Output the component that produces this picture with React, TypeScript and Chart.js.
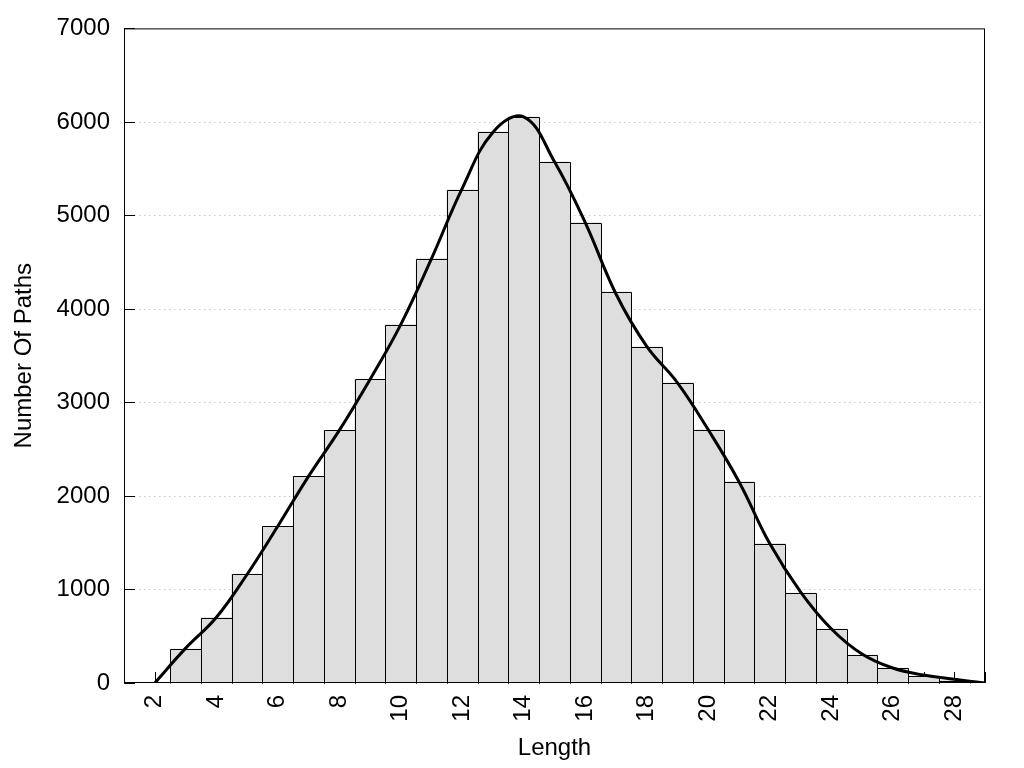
import React, { useEffect, useRef } from "react";
import { Chart, registerables } from "chart.js";

Chart.register(...registerables);

// ---- data ----
const barLengths = [3, 4, 5, 6, 7, 8, 9, 10, 11, 12, 13, 14, 15, 16, 17, 18, 19, 20, 21, 22, 23, 24, 25, 26, 27, 28];
const barCounts = [363, 700, 1164, 1676, 2210, 2701, 3246, 3833, 4538, 5275, 5894, 6054, 5574, 4923, 4182, 3594, 3210, 2708, 2153, 1491, 961, 577, 299, 160, 75, 25];
const curveLengths = [2, 3, 4, 5, 6, 7, 8, 9, 10, 11, 12, 13, 14, 15, 16, 17, 18, 19, 20, 21, 22, 23, 24, 25, 26, 27, 28, 29];
const curveCounts = [0, 370, 700, 1160, 1676, 2210, 2701, 3246, 3833, 4538, 5290, 5890, 6054, 5574, 4923, 4160, 3600, 3210, 2708, 2153, 1491, 975, 580, 310, 160, 85, 40, 0];
const xTickValues = [2, 4, 6, 8, 10, 12, 14, 16, 18, 20, 22, 24, 26, 28];
const yTickValues = [0, 1000, 2000, 3000, 4000, 5000, 6000, 7000];
const X_MIN = 1;
const X_MAX = 29;
const Y_MIN = 0;
const Y_MAX = 7000;
const X_TITLE = "Length";
const Y_TITLE = "Number Of Paths";

const FONT = "'Liberation Sans', Arial, sans-serif";
const TICK_LEN = 11;
const BAR_DATASET_INDEX = 1;

export default function App() {
  const ref = useRef<HTMLCanvasElement>(null);

  useEffect(() => {
    if (!ref.current) return;

    const framePlugin = {
      id: "frameAndTicks",
      beforeDatasetsDraw(chart: any) {
        const { ctx, chartArea: a, scales } = chart;
        const x = scales.x;
        const y = scales.y;
        ctx.save();
        // dotted horizontal grid
        ctx.lineWidth = 1;
        ctx.strokeStyle = "#c8c8c8";
        ctx.setLineDash([1.5, 3.5]);
        for (const v of yTickValues) {
          if (v === Y_MIN || v === Y_MAX) continue;
          const py = Math.round(y.getPixelForValue(v)) + 0.5;
          ctx.beginPath();
          ctx.moveTo(a.left, py);
          ctx.lineTo(a.right, py);
          ctx.stroke();
        }
        ctx.setLineDash([]);
        ctx.strokeStyle = "#000";
        // inward y ticks
        for (const v of yTickValues) {
          const py = Math.round(y.getPixelForValue(v)) + 0.5;
          ctx.beginPath();
          ctx.moveTo(a.left, py);
          ctx.lineTo(a.left + TICK_LEN, py);
          ctx.stroke();
        }
        // inward x ticks at every integer
        for (let v = X_MIN; v <= X_MAX; v++) {
          const px = Math.round(x.getPixelForValue(v)) + 0.5;
          ctx.beginPath();
          ctx.moveTo(px, a.bottom);
          ctx.lineTo(px, a.bottom - TICK_LEN);
          ctx.stroke();
        }
        ctx.restore();
      },
      afterDatasetDraw(chart: any, args: any) {
        if (args.index !== BAR_DATASET_INDEX) return;
        const { ctx } = chart;
        const meta = chart.getDatasetMeta(BAR_DATASET_INDEX);
        ctx.save();
        ctx.strokeStyle = "#000";
        ctx.lineWidth = 1;
        ctx.setLineDash([]);
        for (const el of meta.data) {
          const p = el.getProps(["x", "y", "base", "width"], true);
          const l = Math.round(p.x - p.width / 2) + 0.5;
          const r = Math.round(p.x + p.width / 2) + 0.5;
          const t = Math.round(p.y) + 0.5;
          const b = Math.round(p.base) + 0.5;
          ctx.beginPath();
          ctx.moveTo(l, b);
          ctx.lineTo(l, t);
          ctx.lineTo(r, t);
          ctx.lineTo(r, b);
          ctx.stroke();
        }
        ctx.restore();
      },
      afterDatasetsDraw(chart: any) {
        const { ctx, chartArea: a } = chart;
        ctx.save();
        ctx.strokeStyle = "#000";
        ctx.lineWidth = 1;
        ctx.setLineDash([]);
        ctx.strokeRect(a.left + 0.5, a.top + 0.5, a.right - a.left - 1, a.bottom - a.top - 1);
        ctx.restore();
      },
    };

    const chart = new Chart(ref.current, {
      type: "bar",
      data: {
        datasets: [
          {
            type: "line",
            label: "curve",
            data: curveLengths.map((l, i) => ({ x: l, y: curveCounts[i] })),
            borderColor: "#000",
            borderWidth: 3,
            pointRadius: 0,
            fill: false,
            tension: 0.4,
            order: 0,
          } as any,
          {
            type: "bar",
            label: "bars",
            data: barLengths.map((l, i) => ({ x: l, y: barCounts[i] })),
            backgroundColor: "#dedede",
            borderWidth: 0,
            barPercentage: 1,
            categoryPercentage: 1,
            grouped: false,
            order: 1,
          } as any,
        ],
      },
      options: {
        responsive: false,
        animation: false,
        events: [],
        layout: { padding: { top: 27, right: 39, left: 0, bottom: 0 } },
        plugins: {
          legend: { display: false },
          tooltip: { enabled: false },
        },
        scales: {
          x: {
            type: "linear",
            min: X_MIN,
            max: X_MAX,
            offset: false,
            grid: { display: false, drawTicks: false },
            border: { display: false },
            afterBuildTicks: (scale: any) => {
              scale.ticks = xTickValues.map((v) => ({ value: v }));
            },
            afterFit: (scale: any) => {
              scale.height = 85;
            },
            ticks: {
              autoSkip: false,
              maxRotation: 90,
              minRotation: 90,
              padding: 12,
              color: "#000",
              font: { family: FONT, size: 24 },
              callback: (v: any) => String(v),
            },
            title: {
              display: true,
              text: X_TITLE,
              color: "#000",
              font: { family: FONT, size: 24 },
              padding: { top: 0, bottom: 5 },
            },
          },
          y: {
            type: "linear",
            min: Y_MIN,
            max: Y_MAX,
            grid: { display: false, drawTicks: false },
            border: { display: false },
            afterBuildTicks: (scale: any) => {
              scale.ticks = yTickValues.map((v) => ({ value: v }));
            },
            afterFit: (scale: any) => {
              scale.width = 124;
            },
            ticks: {
              padding: 14,
              color: "#000",
              font: { family: FONT, size: 24 },
              callback: (v: any) => String(v),
            },
            title: {
              display: true,
              text: Y_TITLE,
              color: "#000",
              font: { family: FONT, size: 24 },
              padding: { top: 10, bottom: 0 },
            },
          },
        },
      },
      plugins: [framePlugin],
    });

    return () => chart.destroy();
  }, []);

  return (
    <div style={{ position: "absolute", left: 0, top: 0, width: 1024, height: 768, background: "#fff" }}>
      <canvas ref={ref} width={1024} height={768} style={{ display: "block", width: 1024, height: 768 }} />
    </div>
  );
}
